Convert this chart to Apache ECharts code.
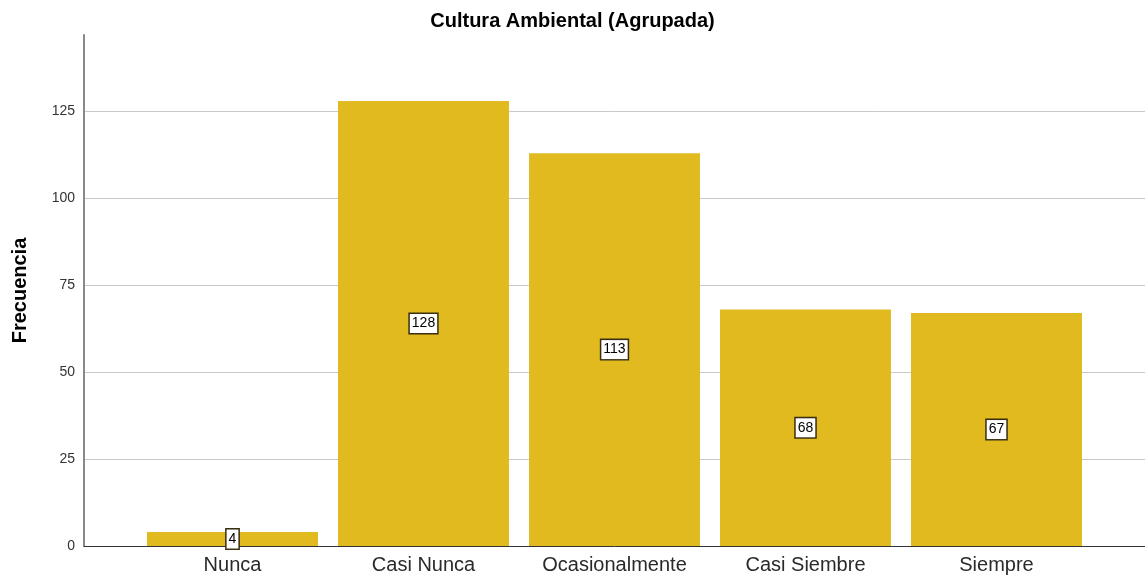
<!DOCTYPE html>
<html>
<head>
<meta charset="utf-8">
<script src="https://cdn.jsdelivr.net/npm/echarts@6/dist/echarts.min.js"></script>
<style>
  html, body { margin: 0; padding: 0; background: #fff; }
  #chart { width: 1145px; height: 580px; }
</style>
</head>
<body>
<div id="chart"></div>
<script>
var categories = ["Nunca", "Casi Nunca", "Ocasionalmente", "Casi Siembre", "Siempre"];
var frecuencias = [4, 128, 113, 68, 67];
var yTicks = [0, 25, 50, 75, 100, 125];

var myChart = echarts.init(document.getElementById("chart"));
var font = "Liberation Sans, Arial, sans-serif";
var yMax = 147;

var option = {
  backgroundColor: "#fff",
  animation: false,
  title: {
    text: "Cultura Ambiental (Agrupada)",
    left: "center",
    top: 6,
    textStyle: { fontFamily: font, fontSize: 20, fontWeight: "bold", color: "#000" }
  },
  grid: [
    { left: 84, right: 0, top: 35, bottom: 34 },
    { left: 137, right: 53, top: 35, bottom: 34 }
  ],
  xAxis: [
    {
      gridIndex: 0,
      type: "value",
      min: 0,
      max: 1,
      axisLine: { show: true, lineStyle: { color: "#333", width: 1 } },
      axisTick: { show: false },
      axisLabel: { show: false },
      splitLine: { show: false }
    },
    {
      gridIndex: 1,
      type: "category",
      data: categories,
      axisLine: { show: false },
      axisTick: { show: false },
      axisLabel: { fontFamily: font, fontSize: 20, color: "#2a2a2a", margin: 9 }
    }
  ],
  yAxis: [
    {
      gridIndex: 0,
      type: "value",
      min: yTicks[0],
      max: yMax,
      interval: 25,
      name: "Frecuencia",
      nameLocation: "middle",
      nameGap: 54,
      nameRotate: 90,
      nameTextStyle: { fontFamily: font, fontSize: 20, fontWeight: "bold", color: "#000" },
      axisLine: { show: true, lineStyle: { color: "#888", width: 2 } },
      axisTick: { show: false },
      axisLabel: {
        fontFamily: font, fontSize: 14, color: "#333", margin: 9, showMaxLabel: false,
        formatter: function (v) { return yTicks.indexOf(v) >= 0 ? v : ""; }
      },
      splitLine: { show: true, showMinLine: false, showMaxLine: false, lineStyle: { color: "#c8c8c8", width: 1 } }
    },
    {
      gridIndex: 1,
      type: "value",
      min: 0,
      max: yMax,
      show: false
    }
  ],
  series: [
    {
      type: "bar",
      xAxisIndex: 1,
      yAxisIndex: 1,
      data: frecuencias,
      barCategoryGap: "10.5%",
      itemStyle: { color: "#E0BA1E" },
      label: {
        show: true,
        position: "inside",
        fontFamily: font,
        fontSize: 14,
        color: "#000",
        backgroundColor: "#fff",
        borderColor: "#3a2e10",
        borderWidth: 1.5,
        padding: [3, 2, 2, 2]
      }
    }
  ]
};
myChart.setOption(option);
</script>
</body>
</html>
